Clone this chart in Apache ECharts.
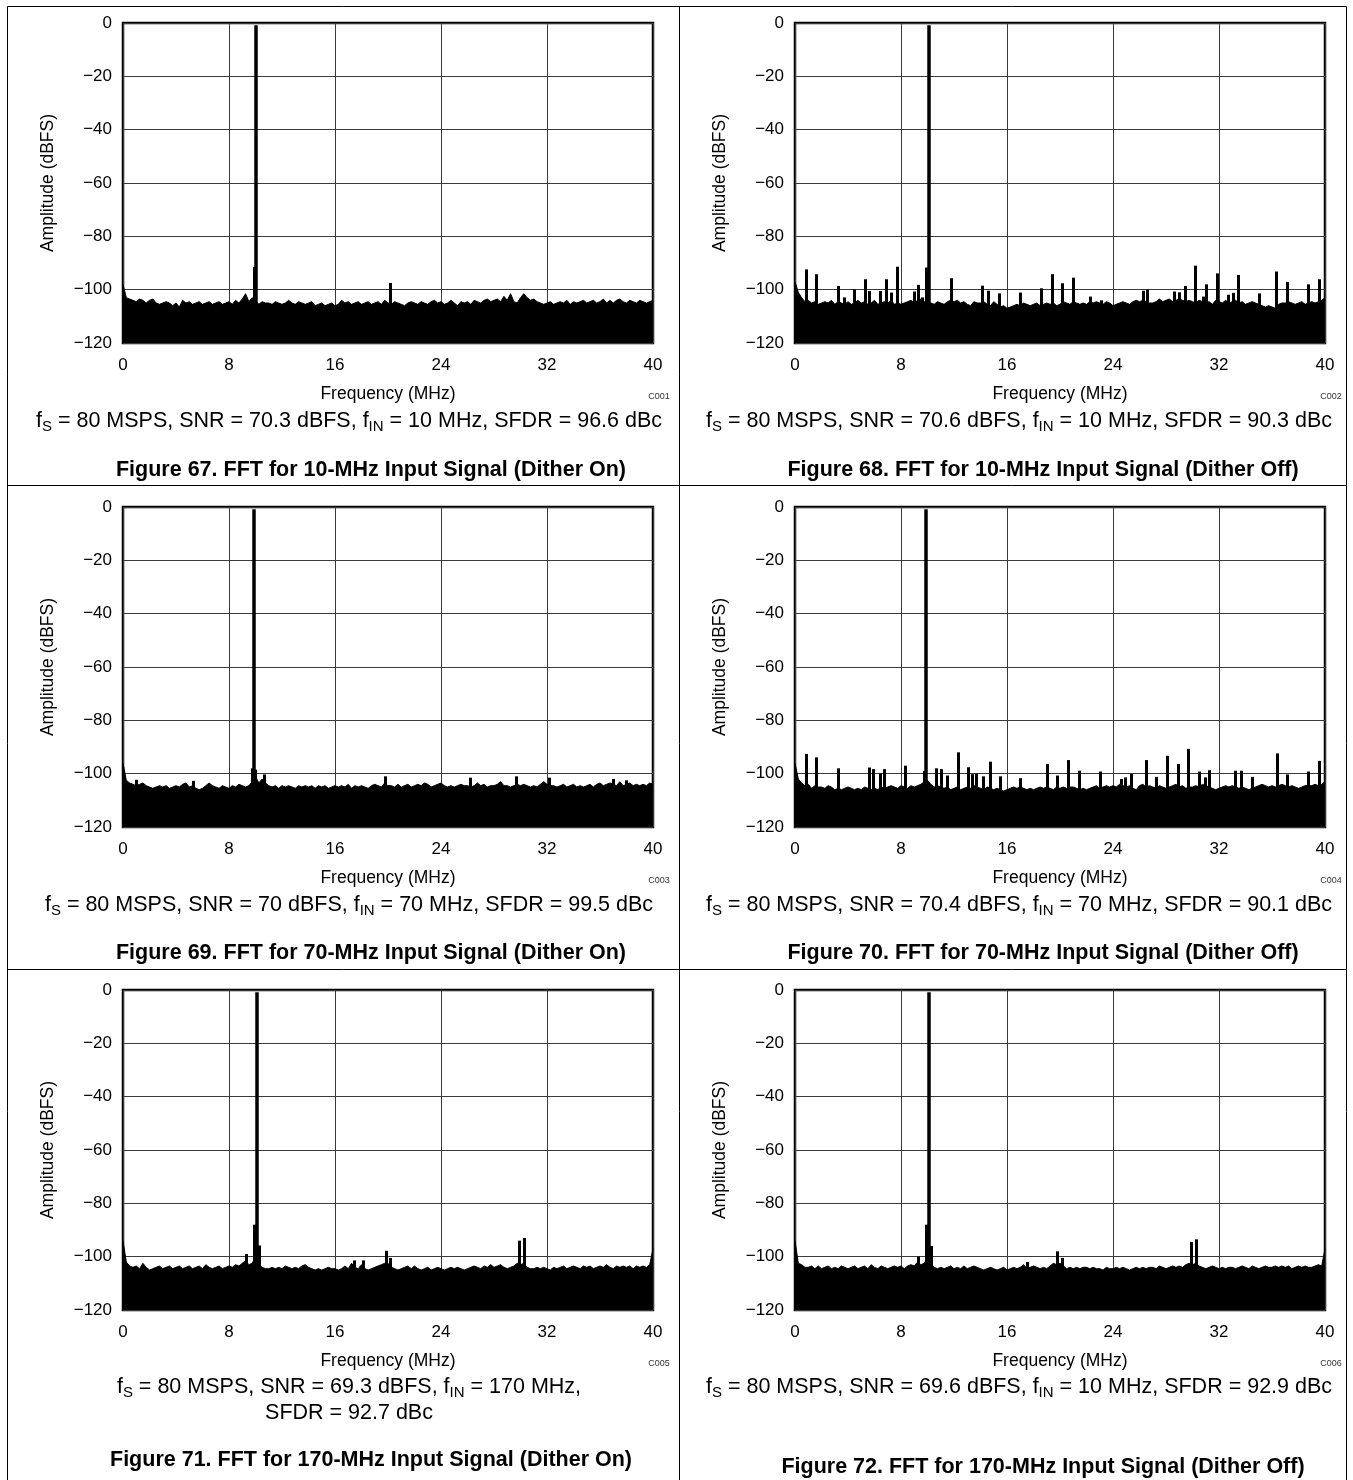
<!DOCTYPE html>
<html><head><meta charset="utf-8">
<script src="https://cdn.jsdelivr.net/npm/echarts@6/dist/echarts.min.js"></script>
<style>html,body{margin:0;padding:0;background:#fff}#c{width:1353px;height:1480px}</style>
</head><body><div id="c"></div>
<script>
// ---------------- DATA ----------------
const freqTicks = [0, 8, 16, 24, 32, 40];          // MHz
const ampTicks = [0, -20, -40, -60, -80, -100, -120]; // dBFS
const noiseStep = 0.25; // MHz between noise-floor samples (0 .. 40)

// Figure 67 noise floor (dBFS), 0..40 MHz
const noise67 = [
-98,-103,-103.5,-104, -104.5,-103.5,-104,-105, -104,-103.5,-105,-105.5, -105,-104.5,-105,-106,
-105,-106.5,-104,-105, -104.5,-105.5,-105,-104.5, -105.5,-105,-104.5,-105.5, -105,-104.5,-105.5,-105,
-104.5,-105.5,-104,-105, -103.5,-101.5,-104.5,-103, -104,-105.5,-104.5,-105, -105,-105.5,-104.5,-105,
-105.5,-105,-104,-105, -105.5,-104.5,-105,-105.5, -105,-104.5,-106,-105.5, -105,-106,-105.5,-105,
-106,-105.5,-104,-105, -104.5,-105.5,-105,-104.5, -105.5,-105,-104.5,-105.5, -105,-104.5,-105.5,-104,
-105,-105.5,-104.5,-105, -105.5,-106,-105,-104.5, -105,-105.5,-104.5,-105, -105.5,-104.5,-104,-105,
-104.5,-105.5,-105,-104, -105,-106,-104.5,-105, -104.5,-105.5,-104,-104.5, -105,-104,-103.5,-104.5,
-104,-103.5,-104.5,-102.5, -104,-101.5,-104.5,-105, -103,-101.5,-103,-104, -103.5,-104.5,-105,-105.5,
-105,-104.5,-105.5,-105, -104.5,-105,-104,-105.5, -104.5,-105,-104.5,-104, -105,-104.5,-104,-105,
-104.5,-103.5,-105,-104, -105,-104,-103.5,-104.5, -105,-104,-104.5,-105, -104,-104.5,-105,-104.5,
-104];
const spurs67 = [[9.9, -91.5], [20.15, -97.5]];
const fund67 = [10.05, -0.8];

// Figure 68
const noise68 = [
-97,-101,-103,-104.5, -104,-105,-104.5,-105.5, -105,-104.5,-105,-104, -105.5,-104.5,-105,-105.5,
-104.5,-105.5,-105,-104, -105,-104.5,-105.5,-105, -104,-105.5,-105,-104.5, -105,-104,-105.5,-105,
-105.5,-105,-104.5,-104, -105,-104,-103.5,-104.5, -104.5,-105,-105.5,-104.5, -105,-105.5,-104.5,-104,
-104.5,-104,-105,-104.5, -105.5,-106,-104.5,-105, -105,-104.5,-105.5,-106, -104.5,-105.5,-106.5,-106,
-107,-106.5,-106,-105.5, -106,-105,-105.5,-106, -105.5,-105,-106,-105.5, -105,-105.5,-105,-106,
-105.5,-104.5,-105,-105.5, -104.5,-105,-105.5,-105, -105.5,-104.5,-105,-104.5, -105,-105.5,-104.5,-105,
-106,-105.5,-105,-104.5, -105,-105.5,-104.5,-104, -104.5,-104,-104.5,-105, -105,-104.5,-103.5,-104.5,
-104,-103.5,-104.5,-104, -103.5,-104,-104.5,-104, -104.5,-105,-104,-104.5, -105,-104.5,-105.5,-104,
-104.5,-105,-104,-105, -104.5,-104,-105,-104.5, -105.5,-105,-104.5,-105, -105.5,-106,-106.5,-106,
-106.5,-107,-105.5,-105, -105,-104.5,-105,-105.5, -105,-104.5,-105.5,-105, -104.5,-105,-104.5,-104,
-103];
const spurs68 = [[0.83,-92.4],[1.64,-94.2],[3.25,-98.6],[3.72,-102.9],[4.5,-99.9],[5.31,-96.1],[5.61,-100.5],
[6.42,-100.5],[6.92,-96.1],[7.25,-101.1],[7.72,-91.4],[8.98,-100.7],[9.31,-98.2],[9.64,-102.9],[9.9,-91.7],
[11.77,-95.7],[14.1,-98.5],[14.6,-100.4],[15.4,-101.4],[16.98,-101.1],[18.59,-99.5],[19.42,-94.2],[20.17,-97.6],
[21.0,-95.5],[22.3,-102.6],[23.1,-104],[26.27,-100.4],[26.57,-100],[28.66,-100.7],[28.98,-101],[29.46,-98.6],
[30.24,-91],[30.8,-102.6],[31.07,-98],[31.85,-93.9],[32.7,-101.9],[33.1,-101.2],[33.47,-94.5],[35.06,-101.4],
[36.3,-93.2],[37.15,-97.1],[38.7,-98],[39.53,-96.1]];
const fund68 = [10.1, -0.8];

// Figure 69
const noise69 = [
-96,-102.5,-103.5,-104, -104.5,-104,-103.5,-104.5, -105,-105.5,-105,-104.5, -105,-104.5,-105.5,-105,
-104.5,-105,-104,-103.5, -105,-104.5,-105.5,-106, -105.5,-104.5,-103.5,-104.5, -105,-105.5,-104.5,-105,
-105.5,-104.5,-105,-104, -104.5,-105,-104.5,-103, -101,-103.5,-102,-103.5, -104.5,-105,-104.5,-105.5,
-104.5,-105,-104.5,-105, -105.5,-104.5,-105,-104.5, -105,-104.5,-105.5,-104.5, -105,-104.5,-105.5,-105,
-104.5,-105,-104.5,-105, -104,-105.5,-104.5,-105, -104.5,-105,-105.5,-104.5, -104,-104.5,-105,-103.5,
-104.5,-104.5,-105,-104, -105,-104.5,-104,-105, -104.5,-104,-104.5,-103.5, -104,-105,-104.5,-104,
-103.5,-104.5,-105,-104.5, -105,-104.5,-104,-104.5, -104.5,-105,-104.5,-103.5, -104.5,-104,-105,-104.5,
-104.5,-104,-103,-104.5, -104.5,-105,-104.5,-104, -104.5,-104,-104.5,-105, -104.5,-105,-104,-103,
-104,-104.5,-104.5,-105, -104.5,-104,-105,-104.5, -104,-105,-104.5,-105, -104.5,-104,-105,-104,
-103.5,-104.5,-104,-103.5, -104,-104.5,-103,-104.5, -104,-103.5,-104.5,-104, -104.5,-104,-104.5,-103.5,
-104];
const spurs69 = [[1.0,-102.3],[5.3,-102.7],[9.75,-98],[9.98,-98.5],[10.66,-100.3],[19.8,-101],[26.2,-101.5],
[29.66,-101],[32.2,-101.5],[37.0,-102],[37.96,-102.5]];
const fund69 = [9.9, -0.8];

// Figure 70
const noise70 = [
-96,-102,-103.5,-104.5, -104,-105.5,-104.5,-105, -105,-105.5,-104.5,-105, -106,-105.5,-106,-105.5,
-105,-105.5,-106,-105.5, -106,-105,-105.5,-106, -105.5,-106,-105,-105.5, -105,-104.5,-105,-105.5,
-104.5,-105,-105.5,-104.5, -105,-104.5,-104,-103, -102.5,-104,-105,-104.5, -105,-105.5,-105,-106,
-105.5,-105,-106,-105.5, -105,-105.5,-104.5,-105, -105.5,-106,-105,-105.5, -106,-105.5,-106,-106.5,
-106,-105.5,-105,-105.5, -105,-105.5,-106,-105.5, -106,-105.5,-105,-105.5, -105,-105.5,-106,-105,
-105.5,-105,-105.5,-105, -105,-105.5,-106,-105.5, -106,-105.5,-105,-104.5, -105.5,-105,-104.5,-105,
-104.5,-105,-104,-104.5, -105,-104.5,-105.5,-106, -104.5,-104,-105,-104.5, -105,-105.5,-104.5,-105,
-105.5,-105,-104.5,-104, -105,-104.5,-105.5,-105, -105,-104.5,-105,-104, -104.5,-105,-105.5,-106,
-105.5,-105,-104.5,-105, -104.5,-105,-105.5,-105, -105.5,-106,-105.5,-105, -104.5,-104,-104.5,-105,
-104.5,-105,-104.5,-104, -104.5,-105,-104.5,-105, -105.5,-105,-104.5,-104.5, -104.5,-104,-104.5,-104,
-103];
const spurs70 = [[0.83,-92.6],[1.64,-93.9],[3.25,-98],[5.61,-97.7],[5.91,-98.3],[6.42,-99.9],[6.74,-98.3],
[8.3,-97],[9.74,-99],[10.69,-98],[11.04,-98.3],[11.5,-100.7],[12.32,-92],[13.1,-97.6],[13.38,-100.2],
[13.66,-100],[14.2,-101],[14.74,-95.5],[15.5,-101],[17.0,-101.7],[19.0,-96.4],[19.8,-100.7],[20.63,-94.9],
[21.42,-98.9],[23.03,-99.2],[24.6,-102],[24.9,-101.4],[25.4,-100.1],[26.5,-94.9],[27.3,-101.2],[28.1,-93.3],
[28.9,-96.4],[29.7,-90.7],[30.5,-99.2],[30.98,-101.4],[31.3,-98.7],[33.2,-98.9],[33.7,-98.9],[34.5,-101.2],
[36.4,-92.4],[37.15,-100.3],[38.74,-99.2],[39.57,-95.2]];
const fund70 = [9.9, -0.8];

// Figure 71
const noise71 = [
-94,-102,-103.5,-104, -103.5,-104.5,-102.5,-104, -105,-104.5,-104,-103.5, -104.5,-104,-103.5,-104.5,
-104,-103.5,-104.5,-104, -103.5,-104.5,-104,-103.5, -104.5,-103,-104,-104.5, -104,-103.5,-104.5,-104,
-103.5,-104,-103,-103.5, -102.5,-101.5,-103,-102.5, -100,-103,-104,-104.5, -104.5,-104,-104.5,-104,
-104.5,-103.5,-104,-104.5, -104,-104.5,-103.5,-103, -104,-104.5,-105,-104.5, -105,-104.5,-104,-104.5,
-104.5,-105,-104.5,-103.5, -104.5,-102.5,-104,-104.5, -103,-104.5,-105,-104.5, -104,-103.5,-103,-102.5,
-102.5,-104,-104.5,-105, -104.5,-104,-103.5,-104.5, -103.5,-104.5,-105,-104.5, -104,-105,-104.5,-104,
-104.5,-105,-104.5,-104, -104.5,-104,-104.5,-105, -104.5,-104,-103.5,-104, -104.5,-103.5,-104,-103,
-104,-103.5,-103,-104, -104.5,-104,-103.5,-102.5, -103,-102.5,-104,-104.5, -104.5,-104,-104.5,-104,
-104.5,-105,-104,-104.5, -104,-103.5,-104.5,-104, -103.5,-104,-104.5,-103.5, -104,-103.5,-104.5,-104,
-103.5,-104,-103,-104, -104.5,-103.5,-104,-103.5, -104,-103.5,-104.5,-103.5, -104,-103.5,-104,-103,
-97];
const spurs71 = [[9.3,-99],[9.9,-88],[10.3,-95.8],[17.47,-101.4],[18.1,-101.4],[19.85,-97.8],[20.2,-100.5],
[29.9,-94],[30.3,-93]];
const fund71 = [10.1, -0.8];

// Figure 72
const noise72 = [
-94,-102.5,-103,-104, -104,-103.5,-104.5,-103.5, -104.5,-104,-103.5,-104.5, -104,-104.5,-103.5,-104,
-104.5,-104,-103.5,-104.5, -104,-103.5,-104.5,-103, -104,-104.5,-103.5,-104, -104.5,-104,-103.5,-104,
-103.5,-104.5,-103.5,-103, -103.5,-102,-103,-102.5, -100.5,-102.5,-104,-104.5, -104,-104.5,-104,-103.5,
-104.5,-104,-104.5,-103.5, -104.5,-104,-103.5,-104, -104.5,-105,-104.5,-104, -104.5,-105,-104.5,-104,
-105,-104.5,-104,-104.5, -104,-103,-104.5,-104, -103.5,-104,-104.5,-104, -104.5,-103.5,-102.5,-103,
-102.5,-103.5,-104.5,-104, -104.5,-104,-104.5,-104, -104,-104.5,-104,-104.5, -104.5,-105,-104,-104.5,
-104.5,-104,-104.5,-104, -104.5,-105,-104.5,-104, -104.5,-104,-104.5,-104, -104,-104.5,-103.5,-104,
-104.5,-104,-103.5,-104, -103.5,-104,-103,-102.5, -103,-102.5,-103.5,-104, -104.5,-104,-103.5,-104,
-104.5,-104,-104.5,-104, -104,-104.5,-104,-103.5, -104,-104.5,-103.5,-104, -104.5,-104,-103.5,-104,
-104,-103.5,-104,-103.5, -104,-103.5,-104.5,-104, -103.5,-104,-103.5,-104, -104,-103.5,-103,-103.5,
-97];
const spurs72 = [[9.3,-100],[9.9,-88],[10.3,-96],[17.5,-102],[19.8,-98],[20.2,-100.5],[29.9,-94.5],[30.3,-93.5]];
const fund72 = [10.1, -0.8];

// Text
const chartCodes = ['C001','C002','C003','C004','C005','C006'];
const condLines = [
  [[['f','S'],' = 80 MSPS, SNR = 70.3 dBFS, ',['f','IN'],' = 10 MHz, SFDR = 96.6 dBc']],
  [[['f','S'],' = 80 MSPS, SNR = 70.6 dBFS, ',['f','IN'],' = 10 MHz, SFDR = 90.3 dBc']],
  [[['f','S'],' = 80 MSPS, SNR = 70 dBFS, ',['f','IN'],' = 70 MHz, SFDR = 99.5 dBc']],
  [[['f','S'],' = 80 MSPS, SNR = 70.4 dBFS, ',['f','IN'],' = 70 MHz, SFDR = 90.1 dBc']],
  [[['f','S'],' = 80 MSPS, SNR = 69.3 dBFS, ',['f','IN'],' = 170 MHz,'], ['SFDR = 92.7 dBc']],
  [[['f','S'],' = 80 MSPS, SNR = 69.6 dBFS, ',['f','IN'],' = 10 MHz, SFDR = 92.9 dBc']]
];
const figTitles = [
  'Figure 67. FFT for 10-MHz Input Signal (Dither On)',
  'Figure 68. FFT for 10-MHz Input Signal (Dither Off)',
  'Figure 69. FFT for 70-MHz Input Signal (Dither On)',
  'Figure 70. FFT for 70-MHz Input Signal (Dither Off)',
  'Figure 71. FFT for 170-MHz Input Signal (Dither On)',
  'Figure 72. FFT for 170-MHz Input Signal (Dither Off)'
];
const xName = 'Frequency (MHz)';
const yName = 'Amplitude (dBFS)';

// ---------------- LAYOUT / BUILD ----------------
const FONT = '"Liberation Sans", Arial, Helvetica, sans-serif';
const noises = [noise67, noise68, noise69, noise70, noise71, noise72];
const spurs = [spurs67, spurs68, spurs69, spurs70, spurs71, spurs72];
const funds = [fund67, fund68, fund69, fund70, fund71, fund72];
const plotLeft = [123, 795];
const plotTop = [23, 507, 990];
const PW = 530, PH = 320;
const condCenter = [349, 1019];
const figCenter = [371, 1043];
const condY = [[421], [905], [1387, 1413]];
const figY = [[470, 470], [953, 953], [1460, 1467]];

const grids = [], xAxes = [], yAxes = [], series = [], graphics = [];
const fmtY = v => v === 0 ? '0' : '\u2212' + Math.abs(v);

for (let i = 0; i < 6; i++) {
  const col = i % 2, row = Math.floor(i / 2);
  const L = plotLeft[col], T = plotTop[row];
  grids.push({left: L, top: T, width: PW, height: PH, show: true,
    borderColor: '#000', borderWidth: 2.5, backgroundColor: 'rgba(0,0,0,0)'});
  xAxes.push({gridIndex: i, type: 'value', min: freqTicks[0], max: freqTicks[freqTicks.length - 1],
    interval: freqTicks[1] - freqTicks[0],
    axisLine: {show: false}, axisTick: {show: false},
    splitLine: {show: true, lineStyle: {color: '#3a3a3a', width: 1}},
    axisLabel: {fontSize: 17, color: '#000', margin: 14, fontFamily: FONT},
    name: xName, nameLocation: 'middle', nameGap: 42,
    nameTextStyle: {fontSize: 17.5, color: '#000', fontFamily: FONT}});
  yAxes.push({gridIndex: i, type: 'value', min: ampTicks[ampTicks.length - 1], max: ampTicks[0],
    interval: ampTicks[0] - ampTicks[1],
    axisLine: {show: false}, axisTick: {show: false},
    splitLine: {show: true, lineStyle: {color: '#3a3a3a', width: 1}},
    axisLabel: {fontSize: 17, color: '#000', margin: 11, fontFamily: FONT, formatter: fmtY},
    name: yName, nameLocation: 'middle', nameGap: 66, nameRotate: 90,
    nameTextStyle: {fontSize: 17.5, color: '#000', fontFamily: FONT}});

  const noiseData = noises[i].map((v, k) => [k * noiseStep, v]);
  const mlData = spurs[i].map(s => [{coord: [s[0], ampTicks[ampTicks.length - 1]]}, {coord: [s[0], s[1]]}]);
  mlData.push([{coord: [funds[i][0], ampTicks[ampTicks.length - 1]], lineStyle: {width: 3.5}}, {coord: [funds[i][0], funds[i][1]]}]);
  series.push({type: 'line', xAxisIndex: i, yAxisIndex: i, data: noiseData,
    symbol: 'none', animation: false, silent: true,
    lineStyle: {color: '#000', width: 1},
    areaStyle: {color: '#000', opacity: 1, origin: 'start'},
    markLine: {symbol: 'none', silent: true, animation: false, label: {show: false},
      lineStyle: {color: '#000', width: 3, type: 'solid'}, emphasis: {disabled: true},
      data: mlData}});

  // chart code
  graphics.push({type: 'text', x: L + PW + 6, y: T + PH + 54,
    style: {text: chartCodes[i], font: '9px ' + FONT, fill: '#333', align: 'center', verticalAlign: 'middle',
      textAlign: 'center', textVerticalAlign: 'middle'}});
  // condition lines
  condLines[i].forEach((line, li) => {
    const txt = line.map(part => Array.isArray(part) ? '{n|' + part[0] + '}{s|' + part[1] + '}' : '{n|' + part + '}').join('');
    graphics.push({type: 'text', x: condCenter[col], y: condY[row][li],
      style: {text: txt, align: 'center', verticalAlign: 'middle', textAlign: 'center', textVerticalAlign: 'middle',
        rich: {
          n: {fontSize: 21.5, fontFamily: FONT, fill: '#000', lineHeight: 26, verticalAlign: 'middle'},
          s: {fontSize: 15, fontFamily: FONT, fill: '#000', lineHeight: 13, verticalAlign: 'bottom'}
        }}});
  });
  graphics.push({type: 'text', x: figCenter[col], y: figY[row][col],
    style: {text: figTitles[i], font: 'bold 21.5px ' + FONT, fill: '#000', align: 'center', verticalAlign: 'middle',
      textAlign: 'center', textVerticalAlign: 'middle'}});
}

// table rules
const rule = (x1, y1, x2, y2) => ({type: 'line', shape: {x1, y1, x2, y2}, style: {stroke: '#000', lineWidth: 1}});
graphics.push(rule(7.5, 6.5, 1346.5, 6.5));
graphics.push(rule(7.5, 6.5, 7.5, 1480));
graphics.push(rule(1346.5, 6.5, 1346.5, 1480));
graphics.push(rule(679.5, 6.5, 679.5, 1480));
graphics.push(rule(7.5, 485.5, 1346.5, 485.5));
graphics.push(rule(7.5, 969.5, 1346.5, 969.5));

const chart = echarts.init(document.getElementById('c'), null, {renderer: 'canvas'});
chart.setOption({
  animation: false,
  backgroundColor: '#fff',
  grid: grids, xAxis: xAxes, yAxis: yAxes, series: series,
  graphic: {elements: graphics}
});
</script></body></html>
